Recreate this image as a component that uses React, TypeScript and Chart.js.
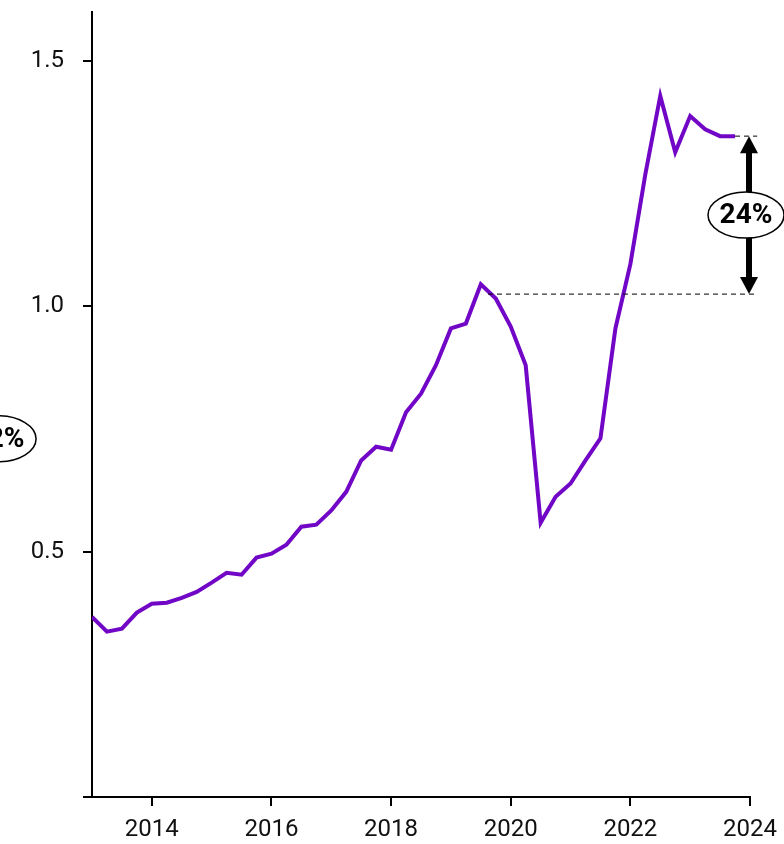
import React, { useEffect, useRef } from "react";
import { Chart, registerables } from "chart.js";

Chart.register(...registerables);

// Quarterly observations, 2013 Q1 .. 2023 Q4
const startYear = 2013;
const values: number[] = [
  0.367, 0.337, 0.343, 0.376,
  0.394, 0.396, 0.406, 0.418,
  0.437, 0.457, 0.453, 0.488,
  0.496, 0.514, 0.551, 0.555,
  0.584, 0.622, 0.686, 0.714,
  0.708, 0.784, 0.822, 0.880,
  0.955, 0.965, 1.045, 1.016,
  0.959, 0.880, 0.559, 0.612,
  0.639, 0.686, 0.731, 0.955,
  1.086, 1.269, 1.429, 1.314,
  1.388, 1.361, 1.347, 1.347,
];
const xTicks: number[] = [2014, 2016, 2018, 2020, 2022, 2024];
const yTicks: number[] = [0, 0.5, 1.0, 1.5];
const yLabels: string[] = ["", "0.5", "1.0", "1.5"];

// Annotation: change between the pre-2020 reference level and latest level
const refLow = 1.025;
const refHigh = 1.347;
const refLowStart = 2019.62;
const refHighStart = 2023.75;
const refEnd = 2024.12;
const arrowX = 2024.0;
const changeLabel = "24%";
// A second bubble (cut off at the left edge)
const leftLabel = "12%";
const leftLabelX = 2011.43;
const leftLabelY = 0.73;

const LINE_COLOR = "#7106C6";
const FONT = "Roboto, 'DejaVu Sans', sans-serif";

function ellipseLabel(ctx: CanvasRenderingContext2D, cx: number, cy: number, text: string) {
  ctx.save();
  ctx.beginPath();
  ctx.ellipse(cx, cy, 38, 23, 0, 0, Math.PI * 2);
  ctx.fillStyle = "#ffffff";
  ctx.fill();
  ctx.lineWidth = 1.5;
  ctx.strokeStyle = "#000";
  ctx.stroke();
  ctx.fillStyle = "#000";
  ctx.font = `bold 28px ${FONT}`;
  ctx.textAlign = "center";
  ctx.textBaseline = "middle";
  ctx.fillText(text, cx, cy + 1);
  ctx.restore();
}

const annotationPlugin = {
  id: "annot",
  afterDraw(chart: any) {
    const ctx: CanvasRenderingContext2D = chart.ctx;
    const xs = chart.scales.x;
    const ys = chart.scales.y;
    const yLow = ys.getPixelForValue(refLow);
    const yHigh = ys.getPixelForValue(refHigh);
    ctx.save();
    ctx.strokeStyle = "#000";
    ctx.lineWidth = 1;
    ctx.setLineDash([5, 4]);
    ctx.beginPath();
    ctx.moveTo(xs.getPixelForValue(refLowStart), yLow);
    ctx.lineTo(xs.getPixelForValue(refEnd), yLow);
    ctx.moveTo(xs.getPixelForValue(refHighStart), yHigh);
    ctx.lineTo(xs.getPixelForValue(refEnd), yHigh);
    ctx.stroke();
    ctx.setLineDash([]);

    const ax = xs.getPixelForValue(arrowX) - 1;
    const headH = 17;
    const headW = 9;
    ctx.fillStyle = "#000";
    ctx.lineWidth = 6;
    ctx.beginPath();
    ctx.moveTo(ax, yHigh + headH - 2);
    ctx.lineTo(ax, yLow - headH + 2);
    ctx.stroke();
    ctx.beginPath();
    ctx.moveTo(ax, yHigh);
    ctx.lineTo(ax - headW, yHigh + headH);
    ctx.lineTo(ax + headW, yHigh + headH);
    ctx.closePath();
    ctx.fill();
    ctx.beginPath();
    ctx.moveTo(ax, yLow);
    ctx.lineTo(ax - headW, yLow - headH);
    ctx.lineTo(ax + headW, yLow - headH);
    ctx.closePath();
    ctx.fill();
    ctx.restore();

    ellipseLabel(ctx, ax - 3, (yLow + yHigh) / 2, changeLabel);
    ellipseLabel(ctx, xs.getPixelForValue(leftLabelX), ys.getPixelForValue(leftLabelY), leftLabel);
  },
};

export default function App() {
  const ref = useRef<HTMLCanvasElement | null>(null);
  useEffect(() => {
    if (!ref.current) return;
    const data = values.map((v, i) => ({ x: startYear + i * 0.25, y: v }));
    const chart = new Chart(ref.current, {
      type: "line",
      data: {
        datasets: [
          {
            data,
            borderColor: LINE_COLOR,
            borderWidth: 4,
            pointRadius: 0,
            tension: 0,
            fill: false,
          },
        ],
      },
      options: {
        animation: false,
        responsive: false,
        layout: { padding: { top: 12, right: 34, left: 0, bottom: 0 } },
        plugins: { legend: { display: false }, tooltip: { enabled: false } },
        scales: {
          x: {
            type: "linear",
            min: 2013,
            max: 2024,
            afterBuildTicks: (s: any) => {
              s.ticks = xTicks.map((v) => ({ value: v }));
            },
            afterFit: (s: any) => {
              s.height = 47;
              s.paddingLeft = 0;
              s.paddingRight = 0;
            },
            grid: { drawOnChartArea: false, drawTicks: true, tickLength: 9, color: "#000", lineWidth: 2 },
            border: { display: true, color: "#000", width: 2 },
            ticks: {
              color: "#111",
              font: { family: FONT, size: 24 },
              padding: 10,
              maxRotation: 0,
              autoSkip: false,
              callback: (v: any) => String(v),
            },
          },
          y: {
            type: "linear",
            min: 0,
            max: 1.6,
            afterBuildTicks: (s: any) => {
              s.ticks = yTicks.map((v) => ({ value: v }));
            },
            afterFit: (s: any) => {
              s.width = 92;
              s.paddingTop = 0;
              s.paddingBottom = 0;
            },
            grid: { drawOnChartArea: false, drawTicks: true, tickLength: 9, color: "#000", lineWidth: 2 },
            border: { display: true, color: "#000", width: 2 },
            ticks: {
              color: "#111",
              font: { family: FONT, size: 24 },
              padding: 19,
              callback: (v: any) => {
                const i = yTicks.indexOf(Number(v));
                return i >= 0 ? yLabels[i] : "";
              },
            },
          },
        },
      },
      plugins: [annotationPlugin],
    });
    return () => chart.destroy();
  }, []);
  return (
    <div style={{ position: "absolute", left: 0, top: 0, width: 784, height: 844, background: "#fff" }}>
      <canvas ref={ref} width={784} height={844} style={{ display: "block" }} />
    </div>
  );
}
